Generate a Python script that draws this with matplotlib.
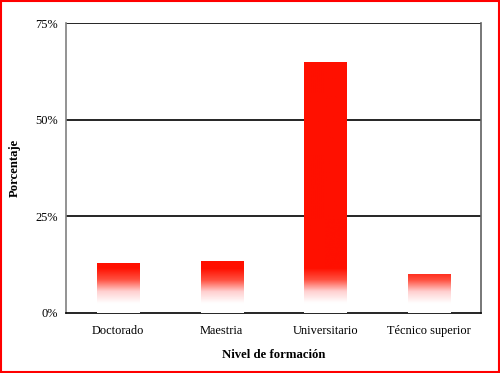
import numpy as np
import matplotlib.pyplot as plt
from matplotlib.colors import LinearSegmentedColormap
from matplotlib.patches import Rectangle

# datos
categorias = ['Doctorado', 'Maestria', 'Universitario', 'Técnico superior']
porcentajes = [12.7, 13.4, 64.9, 10.0]
yticks = [0, 25, 50, 75]
ytick_labels = ['0%', '25%', '50%', '75%']

plt.rcParams['font.family'] = ['Liberation Serif', 'DejaVu Serif']

fig = plt.figure(figsize=(5.0, 3.73), dpi=100)
ax = fig.add_axes([0.132, 0.161, 0.83, 0.776])

# degradado rojo -> blanco en la parte baja de las barras
cmap = LinearSegmentedColormap.from_list('rojo', ['#ffffff', '#ffd0d0', '#ff5040', '#ff1000'])
ancho = 0.405
for i, v in enumerate(porcentajes):
    yy = np.linspace(0, v, 200)
    t = np.clip((yy - 2.5) / 9.0, 0, 1)
    ax.imshow(t[:, None], cmap=cmap, vmin=0, vmax=1, origin='lower', aspect='auto',
              extent=(i - ancho / 2, i + ancho / 2, 0, v), zorder=3, interpolation='bilinear')

ax.set_xlim(-0.5, len(categorias) - 0.5)
ax.set_ylim(0, 75)
ax.set_xticks(range(len(categorias)))
ax.set_xticklabels(categorias, fontsize=8.9)
ax.set_yticks(yticks)
ax.set_yticklabels(ytick_labels, fontsize=8.9)
ax.tick_params(axis='x', length=0, pad=9)
ax.tick_params(axis='y', length=0, pad=6)

for y in yticks[1:]:
    ax.axhline(y, color='black', lw=1.2, zorder=2)

ax.spines['left'].set_color('#808080')
ax.spines['left'].set_linestyle((0, (1, 1)))
ax.spines['right'].set_color('#606060')
ax.spines['right'].set_linestyle((0, (1, 1)))
ax.spines['bottom'].set_color('black')
ax.spines['top'].set_visible(False)
for s in ax.spines.values():
    s.set_linewidth(1.2)

ax.set_xlabel('Nivel de formación', fontsize=9.2, fontweight='bold')
ax.set_ylabel('Porcentaje', fontsize=9.2, fontweight='bold')
ax.xaxis.set_label_coords(0.5, -0.125)
ax.yaxis.set_label_coords(-0.108, 0.5)

# borde rojo
fig.patches.append(Rectangle((0.002, 0.003), 0.996, 0.994, transform=fig.transFigure,
                             fill=False, edgecolor='red', lw=1.5))

fig.savefig('out.png', dpi=100)
